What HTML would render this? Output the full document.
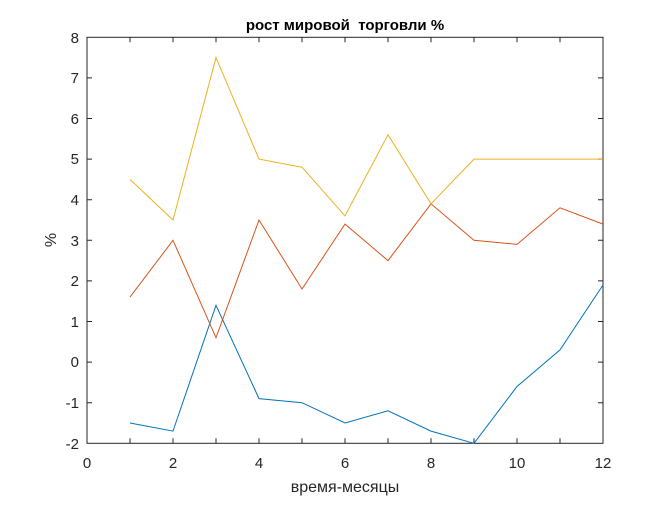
<!DOCTYPE html>
<html><head><meta charset="utf-8"><style>body{margin:0;background:#fff}</style></head><body>
<svg width="667" height="500" xmlns="http://www.w3.org/2000/svg" font-family="Liberation Sans, sans-serif">
<rect width="667" height="500" fill="#fff"/>
<g stroke="#262626" stroke-width="1" fill="none">
<rect x="87" y="37.3" width="516" height="406"/>
<path d="M130,443.3v-5M173,443.3v-5M216,443.3v-5M259,443.3v-5M302,443.3v-5M345,443.3v-5M388,443.3v-5M431,443.3v-5M474,443.3v-5M517,443.3v-5M560,443.3v-5
M130,37.3v5M173,37.3v5M216,37.3v5M259,37.3v5M302,37.3v5M345,37.3v5M388,37.3v5M431,37.3v5M474,37.3v5M517,37.3v5M560,37.3v5
M87,77.9h5M87,118.5h5M87,159.1h5M87,199.7h5M87,240.3h5M87,280.9h5M87,321.5h5M87,362.1h5M87,402.7h5
M603,77.9h-5M603,118.5h-5M603,159.1h-5M603,199.7h-5M603,240.3h-5M603,280.9h-5M603,321.5h-5M603,362.1h-5M603,402.7h-5"/>
</g>
<g fill="none" stroke-width="1">
<polyline stroke="#0072bd" points="130,423 173,431.1 216,305.3 259,398.6 302,402.7 345,423 388,410.8 431,431.1 474,443.3 517,386.5 560,349.9 603,285"/>
<polyline stroke="#d95319" points="130,297.1 173,240.3 216,337.7 259,220 302,289 345,224.1 388,260.6 431,203.8 474,240.3 517,244.4 560,207.8 603,224.1"/>
<polyline stroke="#edb120" points="130,179.4 173,220 216,57.6 259,159.1 302,167.2 345,215.9 388,134.7 431,203.8 474,159.1 517,159.1 560,159.1 603,159.1"/>
</g>
<g fill="#262626" font-size="15" text-anchor="end">
<text x="79" y="43">8</text><text x="79" y="83">7</text><text x="79" y="124">6</text><text x="79" y="164">5</text><text x="79" y="205">4</text><text x="79" y="246">3</text><text x="79" y="286">2</text><text x="79" y="327">1</text><text x="79" y="367">0</text><text x="79" y="408">-1</text><text x="79" y="449">-2</text>
</g>
<g fill="#262626" font-size="15" text-anchor="middle">
<text x="87" y="468">0</text><text x="173" y="468">2</text><text x="259" y="468">4</text><text x="345" y="468">6</text><text x="431" y="468">8</text><text x="517" y="468">10</text><text x="603" y="468">12</text>
<text x="345" y="492" font-size="16">время-месяцы</text>
<text x="345" y="30" font-size="15" font-weight="bold" fill="#000" xml:space="preserve" style="white-space:pre">рост мировой  торговли %</text>
<text x="0" y="0" font-size="16" transform="translate(56,240) rotate(-90)">%</text>
</g>
</svg>
</body></html>
